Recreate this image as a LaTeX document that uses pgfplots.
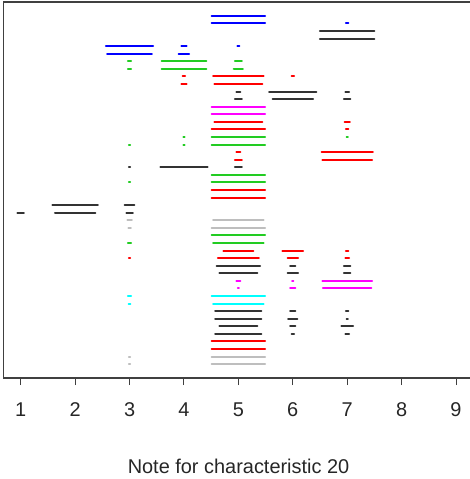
\documentclass[border=0pt]{standalone}
\usepackage{pgfplots}
\pgfplotsset{compat=1.18}
\usepackage{pgfplotstable}
\usepackage{fontspec}
\setmainfont{Liberation Sans}
\definecolor{rblue}{HTML}{0000FF}
\definecolor{rred}{HTML}{FF0000}
\definecolor{rgreen}{HTML}{22CC22}
\definecolor{rmag}{HTML}{FF00FF}
\definecolor{rcyan}{HTML}{00FFFF}
\definecolor{rgray}{HTML}{BEBEBE}
\definecolor{rblack}{HTML}{333333}

% x = note, y = row (1 = top), h = half width of the segment
\pgfplotstableread{
x y h
5 1 0.49
5 2 0.49
7 2 0.023
3 5 0.434
4 5 0.048
5 5 0.017
3 6 0.41
4 6 0.097
}\blues
\pgfplotstableread{
x y h
7 3 0.50
7 4 0.50
5 11 0.035
6 11 0.434
7 11 0.035
5 12 0.063
6 12 0.372
7 12 0.06
3 21 0.011
4 21 0.434
5 21 0.063
2 26 0.418
3 26 0.09
1 27 0.06
2 27 0.37
3 27 0.06
5 34 0.40
6 34 0.048
7 34 0.06
5 35 0.351
6 35 0.097
7 35 0.06
5 40 0.425
6 40 0.048
7 40 0.023
5 41 0.425
6 41 0.085
7 41 0.011
5 42 0.351
6 42 0.048
7 42 0.108
5 43 0.425
6 43 0.023
7 43 0.035
}\blacks
\pgfplotstableread{
x y h
3 7 0.03
4 7 0.41
5 7 0.063
3 8 0.03
4 8 0.41
5 8 0.085
4 17 0.011
5 17 0.49
7 17 0.011
3 18 0.011
4 18 0.011
5 18 0.49
5 22 0.49
3 23 0.011
5 23 0.49
5 30 0.49
3 31 0.03
5 31 0.464
}\greens
\pgfplotstableread{
x y h
4 9 0.023
5 9 0.464
6 9 0.023
4 10 0.048
5 10 0.443
5 15 0.443
7 15 0.048
5 16 0.49
7 16 0.023
5 19 0.035
7 19 0.47
5 20 0.063
7 20 0.458
5 24 0.49
5 25 0.49
5 32 0.274
6 32 0.19
7 32 0.023
3 33 0.011
5 33 0.375
6 33 0.097
7 33 0.035
5 44 0.49
5 45 0.49
}\reds
\pgfplotstableread{
x y h
5 13 0.49
5 14 0.49
5 36 0.035
6 36 0.011
7 36 0.458
5 37 0.011
6 37 0.048
7 37 0.446
}\magentas
\pgfplotstableread{
x y h
3 38 0.03
5 38 0.49
3 39 0.017
5 39 0.464
}\cyans
\pgfplotstableread{
x y h
3 28 0.041
5 28 0.464
3 29 0.023
5 29 0.49
3 46 0.011
5 46 0.49
3 47 0.011
5 47 0.49
}\grays

\begin{document}
\begin{tikzpicture}
\pgfplotsset{
  seg/.style={draw=none, mark=none,
    error bars/x dir=both, error bars/x explicit, error bars/error mark=none,
    error bars/error bar style={solid, line width=2bp, line cap=round, draw=#1}},
}
\begin{axis}[
  name=ax,
  scale only axis, width=466.7bp, height=376bp,
  xmin=0.68, xmax=9.257,
  ymin=-0.84, ymax=48.84, y dir=reverse,
  axis x line=box, axis y line=left,
  x axis line style={-}, y axis line style={-},
  axis line style={line width=1.2bp, black!75},
  xtick={1,...,9}, xtick pos=left, ytick=\empty,
  tick align=outside, major tick length=7bp,
  tick style={line width=1bp, black!75},
  /pgf/number format/assume math mode=true,
  xticklabel style={font=\fontsize{20}{24}\selectfont, text=black!85, yshift=-14bp},
  xlabel={Note for characteristic 20},
  every axis x label/.style={at={(axis description cs:0.504,0)}, anchor=center,
    yshift=-88bp, font=\fontsize{20}{24}\selectfont, text=black!85},
]
\addplot[seg=rblue] table[x=x, y=y, x error=h] {\blues};
\addplot[seg=rblack] table[x=x, y=y, x error=h] {\blacks};
\addplot[seg=rgreen] table[x=x, y=y, x error=h] {\greens};
\addplot[seg=rred] table[x=x, y=y, x error=h] {\reds};
\addplot[seg=rmag] table[x=x, y=y, x error=h] {\magentas};
\addplot[seg=rcyan] table[x=x, y=y, x error=h] {\cyans};
\addplot[seg=rgray] table[x=x, y=y, x error=h] {\grays};
\end{axis}
\pgfresetboundingbox
\path[use as bounding box] ([xshift=-3.3bp,yshift=-101bp]ax.south west) rectangle ([yshift=2bp]ax.north east);
\end{tikzpicture}
\end{document}
